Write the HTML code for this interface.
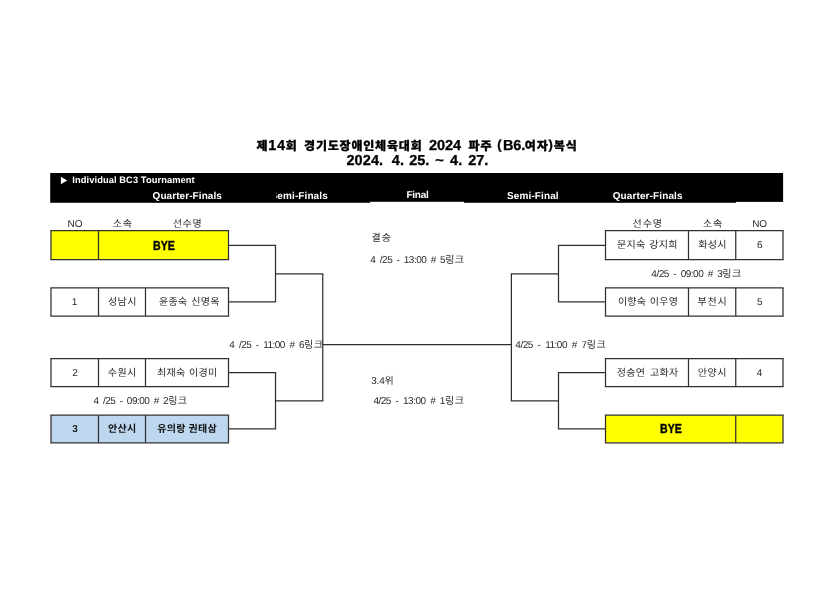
<!DOCTYPE html>
<html lang="ko"><head><meta charset="utf-8"><title>제14회 경기도장애인체육대회 2024 파주 (B6.여자)복식</title><style>
html,body{margin:0;padding:0;background:#fff;}
body{width:835px;height:590px;position:relative;overflow:hidden;font-family:"Liberation Sans","Noto Sans CJK KR",sans-serif;color:#222;text-rendering:geometricPrecision;}
.a{position:absolute;}
.x{position:absolute;white-space:pre;line-height:16px;height:16px;}
.k{font-family:"Noto Sans CJK KR","NanumGothic",sans-serif;font-weight:400;}
.b .k{font-weight:bold;}
.tk{font-family:"Noto Sans CJK KR","NanumGothic",sans-serif;font-weight:900;}
.b .tk{font-weight:900;}
svg{position:absolute;left:0;top:0;}
.tx{position:absolute;left:0;top:0;width:835px;height:590px;will-change:transform;}
</style></head><body>
<svg width="835" height="590" viewBox="0 0 835 590"><rect x="50.2" y="173" width="732.9" height="29.8" fill="#000"/><rect x="370" y="201.8" width="94" height="1.3" fill="#fff"/><rect x="736" y="201.9" width="47.3" height="1.2" fill="#fff"/></svg>
<svg width="835" height="590" viewBox="0 0 835 590"><rect x="51.0" y="230.5" width="177.50" height="29.10" fill="#ffff00"/><line x1="50.375" y1="230.5" x2="229.125" y2="230.5" stroke="#303030" stroke-width="1.25"/><line x1="50.375" y1="259.6" x2="229.125" y2="259.6" stroke="#303030" stroke-width="1.25"/><line x1="51.0" y1="230.5" x2="51.0" y2="259.6" stroke="#303030" stroke-width="1.25"/><line x1="228.5" y1="230.5" x2="228.5" y2="259.6" stroke="#303030" stroke-width="1.25"/><line x1="98.5" y1="230.5" x2="98.5" y2="259.6" stroke="#303030" stroke-width="1.25"/><line x1="50.375" y1="287.9" x2="229.125" y2="287.9" stroke="#303030" stroke-width="1.25"/><line x1="50.375" y1="316.0" x2="229.125" y2="316.0" stroke="#303030" stroke-width="1.25"/><line x1="51.0" y1="287.9" x2="51.0" y2="316.0" stroke="#303030" stroke-width="1.25"/><line x1="228.5" y1="287.9" x2="228.5" y2="316.0" stroke="#303030" stroke-width="1.25"/><line x1="98.5" y1="287.9" x2="98.5" y2="316.0" stroke="#303030" stroke-width="1.25"/><line x1="145.5" y1="287.9" x2="145.5" y2="316.0" stroke="#303030" stroke-width="1.25"/><line x1="50.375" y1="358.6" x2="229.125" y2="358.6" stroke="#303030" stroke-width="1.25"/><line x1="50.375" y1="386.6" x2="229.125" y2="386.6" stroke="#303030" stroke-width="1.25"/><line x1="51.0" y1="358.6" x2="51.0" y2="386.6" stroke="#303030" stroke-width="1.25"/><line x1="228.5" y1="358.6" x2="228.5" y2="386.6" stroke="#303030" stroke-width="1.25"/><line x1="98.5" y1="358.6" x2="98.5" y2="386.6" stroke="#303030" stroke-width="1.25"/><line x1="145.5" y1="358.6" x2="145.5" y2="386.6" stroke="#303030" stroke-width="1.25"/><rect x="51.0" y="415.2" width="177.50" height="27.60" fill="#bdd7ee"/><line x1="50.375" y1="415.2" x2="229.125" y2="415.2" stroke="#303030" stroke-width="1.25"/><line x1="50.375" y1="442.8" x2="229.125" y2="442.8" stroke="#303030" stroke-width="1.25"/><line x1="51.0" y1="415.2" x2="51.0" y2="442.8" stroke="#303030" stroke-width="1.25"/><line x1="228.5" y1="415.2" x2="228.5" y2="442.8" stroke="#303030" stroke-width="1.25"/><line x1="98.5" y1="415.2" x2="98.5" y2="442.8" stroke="#303030" stroke-width="1.25"/><line x1="145.5" y1="415.2" x2="145.5" y2="442.8" stroke="#303030" stroke-width="1.25"/><line x1="604.875" y1="230.5" x2="783.625" y2="230.5" stroke="#303030" stroke-width="1.25"/><line x1="604.875" y1="259.6" x2="783.625" y2="259.6" stroke="#303030" stroke-width="1.25"/><line x1="605.5" y1="230.5" x2="605.5" y2="259.6" stroke="#303030" stroke-width="1.25"/><line x1="783.0" y1="230.5" x2="783.0" y2="259.6" stroke="#303030" stroke-width="1.25"/><line x1="688.5" y1="230.5" x2="688.5" y2="259.6" stroke="#303030" stroke-width="1.25"/><line x1="735.75" y1="230.5" x2="735.75" y2="259.6" stroke="#303030" stroke-width="1.25"/><line x1="604.875" y1="287.9" x2="783.625" y2="287.9" stroke="#303030" stroke-width="1.25"/><line x1="604.875" y1="316.0" x2="783.625" y2="316.0" stroke="#303030" stroke-width="1.25"/><line x1="605.5" y1="287.9" x2="605.5" y2="316.0" stroke="#303030" stroke-width="1.25"/><line x1="783.0" y1="287.9" x2="783.0" y2="316.0" stroke="#303030" stroke-width="1.25"/><line x1="688.5" y1="287.9" x2="688.5" y2="316.0" stroke="#303030" stroke-width="1.25"/><line x1="735.75" y1="287.9" x2="735.75" y2="316.0" stroke="#303030" stroke-width="1.25"/><line x1="604.875" y1="358.6" x2="783.625" y2="358.6" stroke="#303030" stroke-width="1.25"/><line x1="604.875" y1="386.6" x2="783.625" y2="386.6" stroke="#303030" stroke-width="1.25"/><line x1="605.5" y1="358.6" x2="605.5" y2="386.6" stroke="#303030" stroke-width="1.25"/><line x1="783.0" y1="358.6" x2="783.0" y2="386.6" stroke="#303030" stroke-width="1.25"/><line x1="688.5" y1="358.6" x2="688.5" y2="386.6" stroke="#303030" stroke-width="1.25"/><line x1="735.75" y1="358.6" x2="735.75" y2="386.6" stroke="#303030" stroke-width="1.25"/><rect x="605.5" y="415.2" width="177.50" height="27.60" fill="#ffff00"/><line x1="604.875" y1="415.2" x2="783.625" y2="415.2" stroke="#303030" stroke-width="1.25"/><line x1="604.875" y1="442.8" x2="783.625" y2="442.8" stroke="#303030" stroke-width="1.25"/><line x1="605.5" y1="415.2" x2="605.5" y2="442.8" stroke="#303030" stroke-width="1.25"/><line x1="783.0" y1="415.2" x2="783.0" y2="442.8" stroke="#303030" stroke-width="1.25"/><line x1="735.75" y1="415.2" x2="735.75" y2="442.8" stroke="#303030" stroke-width="1.25"/><line x1="228.5" y1="245.4" x2="276.125" y2="245.4" stroke="#303030" stroke-width="1.25"/><line x1="228.5" y1="301.9" x2="276.125" y2="301.9" stroke="#303030" stroke-width="1.25"/><line x1="275.5" y1="245.4" x2="275.5" y2="301.9" stroke="#303030" stroke-width="1.25"/><line x1="275.5" y1="273.95" x2="323.375" y2="273.95" stroke="#303030" stroke-width="1.25"/><line x1="605.5" y1="245.4" x2="557.875" y2="245.4" stroke="#303030" stroke-width="1.25"/><line x1="605.5" y1="301.9" x2="557.875" y2="301.9" stroke="#303030" stroke-width="1.25"/><line x1="558.5" y1="245.4" x2="558.5" y2="301.9" stroke="#303030" stroke-width="1.25"/><line x1="558.5" y1="273.95" x2="510.775" y2="273.95" stroke="#303030" stroke-width="1.25"/><line x1="228.5" y1="372.7" x2="276.125" y2="372.7" stroke="#303030" stroke-width="1.25"/><line x1="228.5" y1="428.9" x2="276.125" y2="428.9" stroke="#303030" stroke-width="1.25"/><line x1="275.5" y1="372.7" x2="275.5" y2="428.9" stroke="#303030" stroke-width="1.25"/><line x1="275.5" y1="400.85" x2="323.375" y2="400.85" stroke="#303030" stroke-width="1.25"/><line x1="605.5" y1="372.7" x2="557.875" y2="372.7" stroke="#303030" stroke-width="1.25"/><line x1="605.5" y1="428.9" x2="557.875" y2="428.9" stroke="#303030" stroke-width="1.25"/><line x1="558.5" y1="372.7" x2="558.5" y2="428.9" stroke="#303030" stroke-width="1.25"/><line x1="558.5" y1="400.85" x2="510.775" y2="400.85" stroke="#303030" stroke-width="1.25"/><line x1="322.75" y1="273.95" x2="322.75" y2="400.85" stroke="#303030" stroke-width="1.25"/><line x1="511.4" y1="273.95" x2="511.4" y2="400.85" stroke="#303030" stroke-width="1.25"/><line x1="322.75" y1="344.5" x2="511.4" y2="344.5" stroke="#303030" stroke-width="1.25"/></svg>
<svg width="835" height="590" viewBox="0 0 835 590"><polygon points="60.9,176.7 67.2,180.45 60.9,184.2" fill="#fff"/></svg>
<div class="tx">
<div class="x b" id="t1a" style="left:256.53px;top:138.00px;font-size:14.5px;color:#000;font-weight:bold;letter-spacing:0.61px;-webkit-text-stroke:0.3px #000;"><span class="tk" style="font-size:12px;letter-spacing:0.80px">제</span>14<span class="tk" style="font-size:12px;letter-spacing:0.80px">회</span> </div>
<div class="x b" id="t1b" style="left:304.08px;top:138.00px;font-size:14.5px;color:#000;font-weight:bold;-webkit-text-stroke:0.3px #000;"><span class="tk" style="font-size:12px;letter-spacing:0.80px">경기도장애인체육대회</span> </div>
<div class="x b" id="t1c" style="left:428.93px;top:138.00px;font-size:14.5px;color:#000;font-weight:bold;letter-spacing:-0.04px;-webkit-text-stroke:0.3px #000;">2024 </div>
<div class="x b" id="t1d" style="left:468.55px;top:138.00px;font-size:14.5px;color:#000;font-weight:bold;-webkit-text-stroke:0.3px #000;"><span class="tk" style="font-size:12px;letter-spacing:0.80px">파주</span> </div>
<div class="x b" id="t1e" style="left:497.35px;top:137.00px;font-size:13px;color:#000;font-weight:bold;-webkit-text-stroke:0.3px #000;">(</div>
<div class="x b" id="t1f" style="left:502.91px;top:138.00px;font-size:14.5px;color:#000;font-weight:bold;letter-spacing:-0.10px;-webkit-text-stroke:0.3px #000;">B6.</div>
<div class="x b" id="t1g" style="left:524.86px;top:138.00px;font-size:14.5px;color:#000;font-weight:bold;-webkit-text-stroke:0.3px #000;"><span class="tk" style="font-size:12px;letter-spacing:0.80px">여자</span></div>
<div class="x b" id="t1h" style="left:548.41px;top:137.00px;font-size:13px;color:#000;font-weight:bold;-webkit-text-stroke:0.3px #000;">)</div>
<div class="x b" id="t1i" style="left:553.80px;top:138.00px;font-size:14.5px;color:#000;font-weight:bold;-webkit-text-stroke:0.3px #000;"><span class="tk" style="font-size:12px;letter-spacing:0.80px">복식</span></div>
<div class="x b" id="t2a" style="left:346.42px;top:153.00px;font-size:14.5px;color:#000;font-weight:bold;letter-spacing:0.11px;-webkit-text-stroke:0.3px #000;">2024. </div>
<div class="x b" id="t2b" style="left:391.64px;top:153.00px;font-size:14.5px;color:#000;font-weight:bold;letter-spacing:0.19px;-webkit-text-stroke:0.3px #000;">4. </div>
<div class="x b" id="t2c" style="left:409.34px;top:153.00px;font-size:14.5px;color:#000;font-weight:bold;letter-spacing:-0.14px;-webkit-text-stroke:0.3px #000;">25. </div>
<div class="x b" id="t2d" style="left:435.23px;top:153.00px;font-size:14.5px;color:#000;font-weight:bold;-webkit-text-stroke:0.3px #000;">~ </div>
<div class="x b" id="t2e" style="left:449.94px;top:153.00px;font-size:14.5px;color:#000;font-weight:bold;letter-spacing:0.14px;-webkit-text-stroke:0.3px #000;">4. </div>
<div class="x b" id="t2f" style="left:468.16px;top:153.00px;font-size:14.5px;color:#000;font-weight:bold;letter-spacing:-0.06px;-webkit-text-stroke:0.3px #000;">27.</div>
<div class="x b" id="h0" style="left:72.34px;top:172.00px;font-size:9.3px;color:#fff;font-weight:bold;letter-spacing:0.09px;">Individual BC3 Tournament</div>
<div class="x b" id="h1" style="left:152.60px;top:189.00px;font-size:10px;color:#fff;font-weight:bold;letter-spacing:0.07px;">Quarter-Finals</div>
<div class="a" id="h2clip" style="left:275.6px;top:185px;width:70px;height:18px;overflow:hidden;"><div class="x b" id="h2" style="left:-5.01px;top:4.00px;font-size:10px;color:#fff;font-weight:bold;letter-spacing:0.10px;">Semi-Finals</div></div>
<div class="x b" id="h3" style="left:406.40px;top:188.00px;font-size:10px;color:#fff;font-weight:bold;letter-spacing:-0.25px;">Final</div>
<div class="x b" id="h4" style="left:507.07px;top:189.00px;font-size:10px;color:#fff;font-weight:bold;letter-spacing:0.11px;">Semi-Final</div>
<div class="x b" id="h5" style="left:612.64px;top:189.00px;font-size:10px;color:#fff;font-weight:bold;letter-spacing:0.12px;">Quarter-Finals</div>
<div class="x" id="l0" style="left:67.56px;top:217.00px;font-size:10px;color:#2a2a2a;letter-spacing:-0.07px;">NO</div>
<div class="x" id="l1" style="left:112.77px;top:215.00px;font-size:10px;color:#2a2a2a;letter-spacing:-0.50px;"><span class="k" style="font-size:10px;letter-spacing:0.90px">소속</span></div>
<div class="x" id="l2" style="left:172.66px;top:215.00px;font-size:10px;color:#2a2a2a;letter-spacing:-0.50px;"><span class="k" style="font-size:10px;letter-spacing:0.72px">선수명</span></div>
<div class="x" id="l3" style="left:632.56px;top:215.00px;font-size:10px;color:#2a2a2a;letter-spacing:-0.50px;"><span class="k" style="font-size:10px;letter-spacing:0.90px">선수명</span></div>
<div class="x" id="l4" style="left:702.97px;top:215.00px;font-size:10px;color:#2a2a2a;letter-spacing:-0.50px;"><span class="k" style="font-size:10px;letter-spacing:0.90px">소속</span></div>
<div class="x" id="l5" style="left:752.16px;top:217.00px;font-size:10px;color:#2a2a2a;letter-spacing:-0.08px;">NO</div>
<div class="x" id="m0" style="left:371.54px;top:229.00px;font-size:10px;color:#2a2a2a;letter-spacing:-0.50px;"><span class="k" style="font-size:10px;letter-spacing:0.90px">결승</span></div>
<div class="x" id="m1" style="left:370.37px;top:251.00px;font-size:10px;color:#2a2a2a;letter-spacing:-0.50px;word-spacing:2.09px;">4 /25 - 13:00 # 5<span class="k" style="font-size:10px;letter-spacing:0.50px">링크</span></div>
<div class="x" id="m2" style="left:371.17px;top:372.00px;font-size:10px;color:#2a2a2a;letter-spacing:-0.18px;">3.4<span class="k" style="font-size:10px;letter-spacing:0.50px">위</span></div>
<div class="x" id="m3" style="left:373.44px;top:392.00px;font-size:10px;color:#2a2a2a;letter-spacing:-0.50px;word-spacing:2.36px;">4/25 - 13:00 # 1<span class="k" style="font-size:10px;letter-spacing:0.50px">링크</span></div>
<div class="x" id="m4" style="left:229.36px;top:336.00px;font-size:10px;color:#2a2a2a;letter-spacing:-0.50px;word-spacing:2.22px;">4 /25 - 11:00 # 6<span class="k" style="font-size:10px;letter-spacing:0.50px">링크</span></div>
<div class="x" id="m5" style="left:515.34px;top:336.00px;font-size:10px;color:#2a2a2a;letter-spacing:-0.50px;word-spacing:2.51px;">4/25 - 11:00 # 7<span class="k" style="font-size:10px;letter-spacing:0.50px">링크</span></div>
<div class="x" id="m6" style="left:651.35px;top:265.00px;font-size:10px;color:#2a2a2a;letter-spacing:-0.50px;word-spacing:2.24px;">4/25 - 09:00 # 3<span class="k" style="font-size:10px;letter-spacing:0.50px">링크</span></div>
<div class="x" id="m7" style="left:93.59px;top:392.00px;font-size:10px;color:#2a2a2a;letter-spacing:-0.50px;word-spacing:2.04px;">4 /25 - 09:00 # 2<span class="k" style="font-size:10px;letter-spacing:0.50px">링크</span></div>
<div class="x" id="c10" style="left:71.83px;top:295.00px;font-size:10px;color:#2a2a2a;letter-spacing:-0.50px;">1</div>
<div class="x" id="c11" style="left:107.92px;top:293.00px;font-size:10px;color:#2a2a2a;letter-spacing:-0.50px;"><span class="k" style="font-size:10px;letter-spacing:0.47px">성남시</span></div>
<div class="x" id="c12" style="left:159.07px;top:293.00px;font-size:10px;color:#2a2a2a;letter-spacing:-0.50px;word-spacing:1.29px;"><span class="k" style="font-size:10px;letter-spacing:0.30px">윤종숙</span> <span class="k" style="font-size:10px;letter-spacing:0.30px">신명옥</span></div>
<div class="x" id="c20" style="left:72.36px;top:366.00px;font-size:10px;color:#2a2a2a;letter-spacing:-0.50px;">2</div>
<div class="x" id="c21" style="left:107.84px;top:364.00px;font-size:10px;color:#2a2a2a;letter-spacing:-0.50px;"><span class="k" style="font-size:10px;letter-spacing:0.44px">수원시</span></div>
<div class="x" id="c22" style="left:156.95px;top:364.00px;font-size:10px;color:#2a2a2a;letter-spacing:-0.50px;word-spacing:1.24px;"><span class="k" style="font-size:10px;letter-spacing:0.30px">최재숙</span> <span class="k" style="font-size:10px;letter-spacing:0.30px">이경미</span></div>
<div class="x b" id="c30" style="left:72.36px;top:422.00px;font-size:10px;color:#111;font-weight:bold;letter-spacing:-0.50px;">3</div>
<div class="x b" id="c31" style="left:107.93px;top:420.00px;font-size:10px;color:#111;font-weight:bold;letter-spacing:-0.50px;"><span class="k" style="font-size:10px;letter-spacing:0.40px">안산시</span></div>
<div class="x b" id="c32" style="left:157.27px;top:420.00px;font-size:10px;color:#111;font-weight:bold;letter-spacing:-0.50px;word-spacing:0.54px;"><span class="k" style="font-size:10px;letter-spacing:0.30px">유의랑</span> <span class="k" style="font-size:10px;letter-spacing:0.30px">권태삼</span></div>
<div class="x" id="d00" style="left:616.97px;top:236.00px;font-size:10px;color:#2a2a2a;letter-spacing:-0.50px;word-spacing:1.38px;"><span class="k" style="font-size:10px;letter-spacing:0.30px">문지숙</span> <span class="k" style="font-size:10px;letter-spacing:0.30px">강지희</span></div>
<div class="x" id="d01" style="left:698.15px;top:236.00px;font-size:10px;color:#2a2a2a;letter-spacing:-0.50px;"><span class="k" style="font-size:10px;letter-spacing:0.38px">화성시</span></div>
<div class="x" id="d02" style="left:756.90px;top:238.00px;font-size:10px;color:#2a2a2a;letter-spacing:-0.50px;">6</div>
<div class="x" id="d10" style="left:617.89px;top:293.00px;font-size:10px;color:#2a2a2a;letter-spacing:-0.50px;word-spacing:1.02px;"><span class="k" style="font-size:10px;letter-spacing:0.30px">이향숙</span> <span class="k" style="font-size:10px;letter-spacing:0.30px">이우영</span></div>
<div class="x" id="d11" style="left:697.51px;top:293.00px;font-size:10px;color:#2a2a2a;letter-spacing:-0.50px;"><span class="k" style="font-size:10px;letter-spacing:0.76px">부천시</span></div>
<div class="x" id="d12" style="left:756.99px;top:295.00px;font-size:10px;color:#2a2a2a;letter-spacing:-0.50px;">5</div>
<div class="x" id="d20" style="left:616.84px;top:364.00px;font-size:10px;color:#2a2a2a;letter-spacing:-0.50px;word-spacing:2.36px;"><span class="k" style="font-size:10px;letter-spacing:0.30px">정승연</span> <span class="k" style="font-size:10px;letter-spacing:0.30px">고화자</span></div>
<div class="x" id="d21" style="left:697.79px;top:364.00px;font-size:10px;color:#2a2a2a;letter-spacing:-0.50px;"><span class="k" style="font-size:10px;letter-spacing:0.57px">안양시</span></div>
<div class="x" id="d22" style="left:756.87px;top:366.00px;font-size:10px;color:#2a2a2a;letter-spacing:-0.50px;">4</div>
<div class="x b" id="b0" style="left:153.40px;top:238.00px;font-size:13px;color:#000;font-weight:bold;transform:scaleX(0.815);transform-origin:0 0;-webkit-text-stroke:0.4px #000;">BYE</div>
<div class="x b" id="b1" style="left:660.42px;top:421.00px;font-size:13px;color:#000;font-weight:bold;transform:scaleX(0.815);transform-origin:0 0;-webkit-text-stroke:0.4px #000;">BYE</div>
</div>
</body></html>
